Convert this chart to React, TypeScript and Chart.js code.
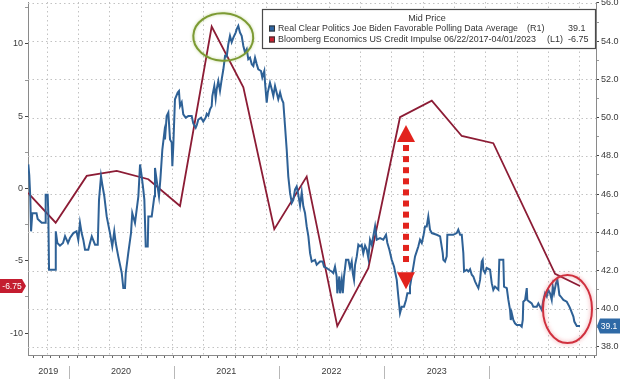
import React, { useEffect, useRef } from 'react';
import { Chart, registerables } from 'chart.js';

Chart.register(...registerables);

const FONT = '"Liberation Sans", Arial, sans-serif';

// ---------- axes ----------
const X_MIN = 2019.615;
const X_MAX = 2025.014;
const LEFT_MIN = -11.52;
const LEFT_MAX = 12.9;
const RIGHT_MIN = 37.58;
const RIGHT_MAX = 56.05;

const YEAR_LABELS = [2019, 2020, 2021, 2022, 2023];
const YEAR_BOUNDARIES = [2020, 2021, 2022, 2023, 2024];
const LEFT_TICKS = [-10, -7.5, -5, -2.5, 0, 2.5, 5, 7.5, 10, 12.5];
const RIGHT_TICKS = [38, 39, 40, 41, 42, 43, 44, 45, 46, 47, 48, 49, 50, 51, 52, 53, 54, 55, 56];
const RIGHT_GRID = [38, 40, 42, 44, 46, 48, 50, 52, 54, 56];
const X_GRID = [2019.793, 2020.091, 2020.389, 2020.686, 2020.984, 2021.282, 2021.58, 2021.878, 2022.175,
  2022.473, 2022.771, 2023.069, 2023.366, 2023.664, 2023.962, 2024.26, 2024.558, 2024.855];

// ---------- series ----------
const POLL_NAME = 'Real Clear Politics Joe Biden Favorable Polling Data Average';
const IMPULSE_NAME = 'Bloomberg Economics US Credit Impulse 06/22/2017-04/01/2023';

const POLL_T = [
  2019.618, 2019.627, 2019.637, 2019.644, 2019.656, 2019.696, 2019.707, 2019.745, 2019.777, 2019.783,
  2019.802, 2019.808, 2019.815, 2019.878, 2019.879, 2019.894, 2019.919, 2019.948, 2019.967, 2019.995,
  2020.014, 2020.046, 2020.076, 2020.093, 2020.109, 2020.125, 2020.141, 2020.157, 2020.188, 2020.204,
  2020.221, 2020.252, 2020.278, 2020.29, 2020.309, 2020.321, 2020.34, 2020.363, 2020.394, 2020.416,
  2020.435, 2020.449, 2020.473, 2020.506, 2020.521, 2020.537, 2020.544, 2020.568, 2020.594, 2020.606,
  2020.632, 2020.664, 2020.68, 2020.696, 2020.711, 2020.721, 2020.734, 2020.753, 2020.759, 2020.791,
  2020.816, 2020.822, 2020.841, 2020.86, 2020.873, 2020.892, 2020.911, 2020.917, 2020.933, 2020.949,
  2020.965, 2020.981, 2020.987, 2020.996, 2021.012, 2021.038, 2021.05, 2021.06, 2021.076, 2021.091,
  2021.114, 2021.139, 2021.171, 2021.186, 2021.209, 2021.219, 2021.234, 2021.26, 2021.281, 2021.304,
  2021.314, 2021.329, 2021.345, 2021.361, 2021.367, 2021.386, 2021.399, 2021.409, 2021.424, 2021.44,
  2021.456, 2021.472, 2021.488, 2021.504, 2021.519, 2021.535, 2021.551, 2021.567, 2021.589, 2021.599,
  2021.614, 2021.63, 2021.646, 2021.662, 2021.678, 2021.694, 2021.709, 2021.725, 2021.742, 2021.757,
  2021.773, 2021.789, 2021.804, 2021.83, 2021.842, 2021.861, 2021.868, 2021.884, 2021.894, 2021.915,
  2021.932, 2021.947, 2021.963, 2021.979, 2021.994, 2022.011, 2022.027, 2022.042, 2022.058, 2022.074,
  2022.089, 2022.106, 2022.122, 2022.137, 2022.153, 2022.169, 2022.184, 2022.201, 2022.217, 2022.232,
  2022.248, 2022.264, 2022.28, 2022.296, 2022.312, 2022.343, 2022.359, 2022.391, 2022.416, 2022.429,
  2022.454, 2022.486, 2022.502, 2022.517, 2022.533, 2022.549, 2022.555, 2022.574, 2022.581, 2022.597,
  2022.607, 2022.619, 2022.638, 2022.66, 2022.676, 2022.692, 2022.702, 2022.714, 2022.724, 2022.74,
  2022.755, 2022.771, 2022.787, 2022.802, 2022.819, 2022.835, 2022.85, 2022.866, 2022.882, 2022.897,
  2022.914, 2022.93, 2022.961, 2022.992, 2023.018, 2023.031, 2023.05, 2023.072, 2023.094, 2023.12,
  2023.135, 2023.151, 2023.167, 2023.189, 2023.208, 2023.221, 2023.24, 2023.246, 2023.262, 2023.278,
  2023.294, 2023.31, 2023.325, 2023.341, 2023.358, 2023.373, 2023.389, 2023.405, 2023.42, 2023.436,
  2023.453, 2023.5, 2023.532, 2023.557, 2023.563, 2023.579, 2023.595, 2023.601, 2023.627, 2023.658,
  2023.69, 2023.705, 2023.722, 2023.738, 2023.753, 2023.76, 2023.785, 2023.801, 2023.817, 2023.833,
  2023.848, 2023.864, 2023.88, 2023.896, 2023.912, 2023.928, 2023.937, 2023.943, 2023.959, 2023.975,
  2024.007, 2024.023, 2024.038, 2024.054, 2024.086, 2024.095, 2024.133, 2024.14, 2024.166, 2024.181,
  2024.197, 2024.204, 2024.213, 2024.228, 2024.244, 2024.261, 2024.292, 2024.308, 2024.318, 2024.323,
  2024.34, 2024.356, 2024.361, 2024.38, 2024.403, 2024.418, 2024.451, 2024.466, 2024.482, 2024.498,
  2024.514, 2024.53, 2024.546, 2024.561, 2024.577, 2024.593, 2024.603, 2024.615, 2024.634, 2024.647,
  2024.656, 2024.666, 2024.679, 2024.704, 2024.736, 2024.761, 2024.774, 2024.786, 2024.799, 2024.808,
  2024.831, 2024.862,
];
const POLL_V = [
  47.55, 47.0, 45.8, 44.05, 45.0, 45.0, 44.7, 44.5, 44.5, 45.97,
  45.97, 45.0, 42.04, 42.04, 44.05, 43.44, 43.3, 43.44, 43.8, 43.44,
  43.7, 43.96, 44.05, 43.6, 44.5, 43.96, 43.6, 43.09, 43.09, 43.44,
  43.78, 43.35, 43.35, 45.7, 46.93, 46.5, 45.9, 44.83, 43.96, 43.26,
  44.05, 43.44, 42.74, 41.87, 41.08, 41.08, 41.87, 42.91, 43.96, 45.01,
  44.49, 45.88, 47.55, 46.93, 46.23, 45.71, 43.26, 43.26, 44.83, 44.83,
  45.88, 47.37, 46.6, 45.88, 46.76, 48.33, 49.21, 48.86, 50.08, 50.26,
  48.86, 48.69, 47.46, 48.5, 50.96, 51.31, 51.39, 50.61, 50.8, 50.17,
  50.0, 50.08, 50.08, 49.7, 49.47, 49.6, 49.9, 50.0, 49.8, 50.0,
  50.2, 50.1, 50.43, 50.6, 51.13, 51.66, 51.0, 51.5, 51.92, 51.4,
  52.0, 52.53, 53.23, 53.2, 53.84, 54.28, 53.95, 54.19, 54.45, 54.63,
  54.8, 54.45, 54.28, 53.75, 53.41, 53.58, 53.06, 53.14, 52.79, 52.7,
  53.14, 52.8, 52.53, 52.44, 52.1, 52.44, 51.83, 50.78, 51.31, 51.83,
  51.48, 51.13, 51.66, 51.3, 50.96, 51.31, 50.96, 50.78, 49.56, 48.33,
  46.93, 46.06, 45.54, 45.7, 46.23, 46.4, 45.97, 45.4, 46.1, 45.36,
  45.01, 44.31, 43.79, 42.91, 42.47, 42.56, 42.3, 42.47, 42.47, 42.2,
  42.13, 42.0, 41.95, 41.87, 42.2, 41.69, 40.81, 41.69, 40.81, 41.51,
  40.81, 41.69, 42.56, 42.56, 42.13, 42.47, 41.87, 41.51, 42.3, 42.74,
  43.35, 43.26, 43.35, 42.9, 43.3, 43.1, 42.65, 43.61, 43.35, 43.79,
  44.31, 43.61, 43.7, 43.61, 43.87, 43.44, 43.09, 42.56, 42.21, 41.51,
  40.64, 39.77, 40.11, 40.11, 40.46, 40.81, 40.81, 41.16, 41.69, 42.2,
  42.74, 43.0, 43.26, 43.61, 43.44, 43.79, 44.31, 44.31, 44.83, 44.14,
  43.96, 43.87, 43.79, 42.91, 42.56, 42.47, 42.74, 43.87, 43.87, 43.87,
  43.96, 44.14, 43.87, 43.87, 42.91, 41.95, 42.04, 41.95, 42.07, 41.78,
  41.69, 41.43, 41.25, 41.08, 41.51, 42.47, 42.56, 42.04, 41.87, 42.13,
  42.04, 41.34, 40.99, 41.16, 40.99, 42.56, 42.56, 41.16, 41.08, 40.46,
  39.94, 39.41, 39.77, 39.41, 39.24, 39.15, 39.15, 39.06, 39.41, 40.37,
  40.46, 41.08, 40.46, 40.37, 40.28, 40.11, 40.11, 40.28, 40.11, 39.94,
  40.46, 40.81, 40.64, 40.99, 40.81, 40.46, 41.16, 40.81, 41.34, 41.51,
  41.16, 40.72, 40.64, 40.46, 40.37, 40.11, 39.94, 39.77, 39.59, 39.33,
  39.1, 39.1,
];

const IMPULSE_T = [2019.615, 2019.878, 2020.173, 2020.458, 2020.759, 2021.06, 2021.361, 2021.662, 2021.956,
  2022.264, 2022.555, 2022.85, 2023.151, 2023.453, 2023.738, 2024.038, 2024.625, 2024.862];
const IMPULSE_V = [-0.31, -2.37, 0.87, 1.21, 0.64, -1.21, 11.2, 7.0, -2.82,
  0.82, -9.52, -5.52, 4.93, 6.08, 3.63, 3.13, -5.9, -6.75];

// ---------- annotations (data units) ----------
const GREEN_RING = { x: 2021.471, y: 10.48, rx: 0.285, ry: 1.64 };
const RED_RING = { x: 2024.743, y: -8.34, rx: 0.233, ry: 2.35 };
const ARROW = { x: 2023.208, top: 4.39, bottom: -6.98 };

const POLL_COLOR = '#2e6196';
const IMPULSE_COLOR = '#8c1c35';

const overlay = {
  id: 'overlay',
  beforeDraw(chart: any) {
    const ctx = chart.ctx;
    ctx.save();
    ctx.fillStyle = '#ffffff';
    ctx.fillRect(0, 0, chart.width, chart.height);
    ctx.restore();
  },
  beforeDatasetsDraw(chart: any) {
    const { ctx, chartArea: a } = chart;
    const xs = chart.scales.x;
    const yr = chart.scales.yR;
    ctx.save();
    ctx.strokeStyle = '#c2c2c2';
    ctx.lineWidth = 1;
    ctx.setLineDash([1.5, 3]);
    RIGHT_GRID.forEach((v) => {
      const y = Math.round(yr.getPixelForValue(v)) + 0.5;
      ctx.beginPath();
      ctx.moveTo(a.left, y);
      ctx.lineTo(a.right, y);
      ctx.stroke();
    });
    X_GRID.forEach((t) => {
      const x = Math.round(xs.getPixelForValue(t)) + 0.5;
      ctx.beginPath();
      ctx.moveTo(x, a.top);
      ctx.lineTo(x, a.bottom);
      ctx.stroke();
    });
    ctx.restore();
  },
  afterDraw(chart: any) {
    const { ctx, chartArea: a } = chart;
    const xs = chart.scales.x;
    const yl = chart.scales.yL;
    const yr = chart.scales.yR;
    ctx.save();

    // year labels + dividers
    ctx.font = `9px ${FONT}`;
    ctx.fillStyle = '#3a3a3a';
    ctx.textAlign = 'center';
    ctx.textBaseline = 'middle';
    YEAR_LABELS.forEach((yrNum) => {
      const s = Math.max(X_MIN, yrNum);
      const e = Math.min(X_MAX, yrNum + 1);
      const cx = (xs.getPixelForValue(s) + xs.getPixelForValue(e)) / 2;
      ctx.fillText(String(yrNum), cx, a.bottom + 17);
    });
    ctx.strokeStyle = '#b8b8b8';
    ctx.lineWidth = 1;
    YEAR_BOUNDARIES.forEach((t) => {
      const x = Math.round(xs.getPixelForValue(t)) + 0.5;
      ctx.beginPath();
      ctx.moveTo(x, a.bottom + 11);
      ctx.lineTo(x, chart.height);
      ctx.stroke();
    });

    // green ring
    ctx.save();
    ctx.strokeStyle = '#7c9a33';
    ctx.lineWidth = 2;
    ctx.shadowColor = 'rgba(140,180,60,0.5)';
    ctx.shadowBlur = 3;
    {
      const cx = xs.getPixelForValue(GREEN_RING.x);
      const cy = yl.getPixelForValue(GREEN_RING.y);
      const rx = xs.getPixelForValue(GREEN_RING.x + GREEN_RING.rx) - cx;
      const ry = yl.getPixelForValue(GREEN_RING.y - GREEN_RING.ry) - cy;
      ctx.beginPath();
      ctx.ellipse(cx, cy, rx, ry, 0.05, 0, Math.PI * 2);
      ctx.stroke();
    }
    ctx.restore();

    // red ring
    ctx.save();
    ctx.strokeStyle = '#d0303e';
    ctx.lineWidth = 2;
    ctx.shadowColor = 'rgba(230,90,100,0.6)';
    ctx.shadowBlur = 4;
    {
      const cx = xs.getPixelForValue(RED_RING.x);
      const cy = yl.getPixelForValue(RED_RING.y);
      const rx = xs.getPixelForValue(RED_RING.x + RED_RING.rx) - cx;
      const ry = yl.getPixelForValue(RED_RING.y - RED_RING.ry) - cy;
      ctx.beginPath();
      ctx.ellipse(cx, cy, rx, ry, 0, 0, Math.PI * 2);
      ctx.stroke();
    }
    ctx.restore();

    // red dotted double arrow
    {
      const ax = xs.getPixelForValue(ARROW.x);
      const yTop = yl.getPixelForValue(ARROW.top);
      const yBot = yl.getPixelForValue(ARROW.bottom);
      const head = 17;
      const hw = 9;
      ctx.fillStyle = '#e2231d';
      ctx.beginPath();
      ctx.moveTo(ax, yTop);
      ctx.lineTo(ax + hw, yTop + head);
      ctx.lineTo(ax - hw, yTop + head);
      ctx.closePath();
      ctx.fill();
      ctx.beginPath();
      ctx.moveTo(ax, yBot);
      ctx.lineTo(ax + hw, yBot - head);
      ctx.lineTo(ax - hw, yBot - head);
      ctx.closePath();
      ctx.fill();
      for (let y = yTop + head + 3; y + 6 <= yBot - head - 1; y += 11.1) {
        ctx.fillRect(ax - 3, y, 6, 6);
      }
    }

    // legend box
    {
      const bx = a.right - 334;
      const by = 9;
      const bw = 333;
      const bh = 39;
      ctx.fillStyle = '#ffffff';
      ctx.fillRect(bx, by, bw, bh);
      ctx.strokeStyle = '#4a4a4a';
      ctx.lineWidth = 1.2;
      ctx.strokeRect(bx + 0.5, by + 0.5, bw, bh);
      ctx.fillStyle = '#333';
      ctx.textBaseline = 'middle';
      ctx.textAlign = 'center';
      ctx.font = `9px ${FONT}`;
      ctx.fillText('Mid Price', bx + 165, by + 9.5);
      ctx.textAlign = 'left';
      const rows = [
        { color: '#2f66a3', name: POLL_NAME, axis: '(R1)', val: POLL_V[POLL_V.length - 1].toFixed(1), axX: 265, y: by + 19.5, w: 240 },
        { color: '#c8202f', name: IMPULSE_NAME, axis: '(L1)', val: IMPULSE_V[IMPULSE_V.length - 1].toFixed(2), axX: 285, y: by + 30.5, w: 258 },
      ];
      ctx.lineWidth = 1;
      rows.forEach((r) => {
        ctx.fillStyle = r.color;
        ctx.fillRect(bx + 7, r.y - 3, 6, 6);
        ctx.strokeStyle = '#333';
        ctx.strokeRect(bx + 7.5, r.y - 2.5, 5, 5);
        ctx.fillStyle = '#333';
        ctx.fillText(r.name, bx + 16, r.y, r.w);
        ctx.fillText(r.axis, bx + r.axX, r.y);
        ctx.fillText(r.val, bx + 306, r.y);
      });
    }

    // value tags
    {
      const yv = IMPULSE_V[IMPULSE_V.length - 1];
      const ty = yl.getPixelForValue(yv);
      ctx.fillStyle = '#c41d30';
      ctx.beginPath();
      ctx.moveTo(0, ty - 7);
      ctx.lineTo(22, ty - 7);
      ctx.lineTo(26, ty);
      ctx.lineTo(22, ty + 7);
      ctx.lineTo(0, ty + 7);
      ctx.closePath();
      ctx.fill();
      ctx.fillStyle = '#fff';
      ctx.font = `8.5px ${FONT}`;
      ctx.textAlign = 'center';
      ctx.textBaseline = 'middle';
      ctx.fillText(yv.toFixed(2), 12, ty + 0.5);

      const pv = POLL_V[POLL_V.length - 1];
      const py = yr.getPixelForValue(pv);
      ctx.fillStyle = '#2f6aa6';
      ctx.beginPath();
      ctx.moveTo(a.right + 1, py);
      ctx.lineTo(a.right + 4, py - 7.5);
      ctx.lineTo(chart.width, py - 7.5);
      ctx.lineTo(chart.width, py + 7.5);
      ctx.lineTo(a.right + 4, py + 7.5);
      ctx.closePath();
      ctx.fill();
      ctx.fillStyle = '#fff';
      ctx.fillText(pv.toFixed(1), a.right + 13, py + 0.5);
    }

    ctx.restore();
  },
};

export default function App() {
  const ref = useRef<HTMLCanvasElement>(null);

  useEffect(() => {
    const canvas = ref.current;
    if (!canvas) return;
    Chart.defaults.font.family = FONT;

    const monthTicks: number[] = [];
    for (let m = 0; m < 12 * 7; m++) {
      const v = 2019 + m / 12;
      if (v >= X_MIN && v <= X_MAX) monthTicks.push(v);
    }

    const chart = new Chart(canvas, {
      type: 'line',
      data: {
        datasets: [
          {
            label: POLL_NAME,
            data: POLL_T.map((t, i) => ({ x: t, y: POLL_V[i] })),
            yAxisID: 'yR',
            borderColor: POLL_COLOR,
            borderWidth: 2,
            pointRadius: 0,
            tension: 0,
          },
          {
            label: IMPULSE_NAME,
            data: IMPULSE_T.map((t, i) => ({ x: t, y: IMPULSE_V[i] })),
            yAxisID: 'yL',
            borderColor: IMPULSE_COLOR,
            borderWidth: 1.8,
            pointRadius: 0,
            tension: 0,
          },
        ],
      },
      options: {
        responsive: false,
        animation: false,
        layout: { padding: { top: 2, left: 0, right: 0, bottom: 0 } },
        plugins: { legend: { display: false }, tooltip: { enabled: false } },
        scales: {
          x: {
            type: 'linear',
            position: 'bottom',
            min: X_MIN,
            max: X_MAX,
            afterBuildTicks: (s: any) => {
              s.ticks = monthTicks.map((v) => ({ value: v }));
            },
            ticks: { autoSkip: false, callback: () => '', padding: 0 },
            grid: { drawOnChartArea: false, drawTicks: true, tickLength: 3, tickColor: '#666' },
            border: { display: true, color: '#8a8a8a' },
            afterFit: (s: any) => {
              s.height = 24;
              s.paddingLeft = 0;
              s.paddingRight = 0;
            },
          },
          yL: {
            type: 'linear',
            position: 'left',
            min: LEFT_MIN,
            max: LEFT_MAX,
            afterBuildTicks: (s: any) => {
              s.ticks = LEFT_TICKS.map((v) => ({ value: v }));
            },
            ticks: {
              autoSkip: false,
              padding: 2,
              color: '#3a3a3a',
              font: { size: 9, family: FONT },
              callback: (v: any) => (Number(v) % 5 === 0 ? String(v) : ''),
            },
            grid: {
              drawOnChartArea: false,
              drawTicks: true,
              tickLength: 3,
              tickColor: (c: any) => (c.tick && c.tick.value % 5 === 0 ? '#444' : '#999'),
            },
            border: { display: true, color: '#8a8a8a' },
            afterFit: (s: any) => {
              s.width = 28;
              s.paddingTop = 0;
              s.paddingBottom = 0;
            },
          },
          yR: {
            type: 'linear',
            position: 'right',
            min: RIGHT_MIN,
            max: RIGHT_MAX,
            afterBuildTicks: (s: any) => {
              s.ticks = RIGHT_TICKS.map((v) => ({ value: v }));
            },
            ticks: {
              autoSkip: false,
              padding: 2,
              color: '#3a3a3a',
              font: { size: 9, family: FONT },
              callback: (v: any) => (Number(v) % 2 === 0 ? Number(v).toFixed(1) : ''),
            },
            grid: {
              drawOnChartArea: false,
              drawTicks: true,
              tickLength: 3,
              tickColor: (c: any) => (c.tick && c.tick.value % 2 === 0 ? '#444' : '#999'),
            },
            border: { display: true, color: '#8a8a8a' },
            afterFit: (s: any) => {
              s.width = 24;
              s.paddingTop = 0;
              s.paddingBottom = 0;
            },
          },
        },
      },
      plugins: [overlay],
    } as any);

    return () => chart.destroy();
  }, []);

  return (
    <div style={{ position: 'fixed', left: 0, top: 0, width: 620, height: 379, background: '#fff' }}>
      <canvas ref={ref} width={620} height={379} style={{ display: 'block', width: 620, height: 379 }} />
    </div>
  );
}
